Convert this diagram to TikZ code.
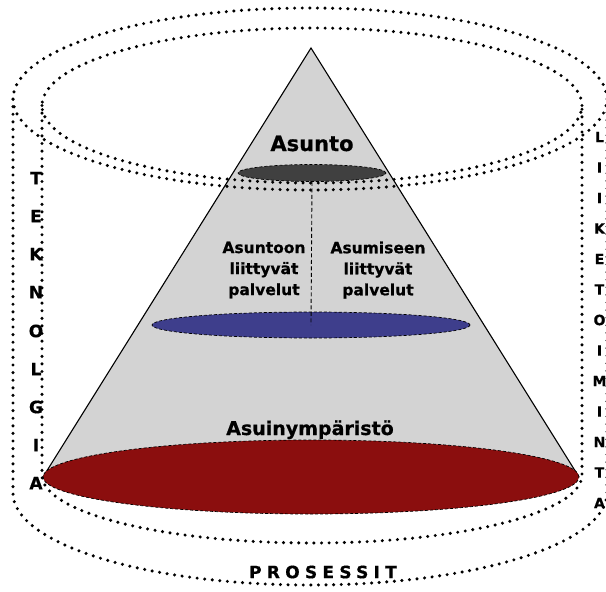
\documentclass[tikz,border=0pt]{standalone}
\usepackage{fontspec}
\setmainfont{DejaVu Sans}[BoldFeatures={FakeBold=0.6}]
\usetikzlibrary{shapes.geometric}
\definecolor{conegray}{RGB}{211,211,211}
\definecolor{redbase}{RGB}{139,14,14}
\definecolor{bluedisc}{RGB}{62,62,140}
\definecolor{darkdisc}{RGB}{64,64,64}
\begin{document}
\begin{tikzpicture}[x=1pt,y=-1pt,
  dotline/.style={line width=3.4pt, dash pattern=on 0pt off 7.6pt, line cap=round},
  disc/.style={ellipse, draw, line width=0.7pt, inner sep=0pt, dash pattern=on 3pt off 2pt},
  lbl/.style={font=\bfseries\fontsize{15.5}{21}\selectfont, align=center, inner sep=0pt},
  sidel/.style={font=\bfseries\fontsize{17}{17}\selectfont, inner sep=0pt},
  sider/.style={font=\bfseries\fontsize{14}{14}\selectfont, inner sep=0pt}]
\useasboundingbox (0,0) rectangle (606,592);
\clip (0,0) rectangle (606,592);
% cone
\fill[conegray] (311,48) -- (43,477) -- (579,477) -- cycle;
\draw[line width=1.1pt] (43,477) -- (311,48) -- (579,477);
% discs
\node[disc, fill=redbase, minimum width=536pt, minimum height=74pt] (base) at (311,477) {};
\node[disc, fill=bluedisc, minimum width=318pt, minimum height=26pt] (mid) at (311,325) {};
\node[disc, fill=darkdisc, minimum width=148pt, minimum height=17pt] (top) at (312,173) {};
\draw[line width=0.9pt, dash pattern=on 4pt off 2.5pt] (top.south) -- (mid.center);
% texts
\node[font=\bfseries\fontsize{21}{21}\selectfont, inner sep=0pt, anchor=base] (asunto) at (312,151) {Asunto};
\node[lbl] (lleft) at (264,270) {Asuntoon\\liittyvät\\palvelut};
\node[lbl] (lright) at (378,270) {Asumiseen\\liittyvät\\palvelut};
\node[font=\bfseries\fontsize{19}{19}\selectfont, inner sep=0pt, anchor=base] (env) at (310,435) {Asuinympäristö};
% cylinders
\draw[dotline] (310,99) ellipse [x radius=297pt, y radius=91pt];
\draw[dotline] (312,105.5) ellipse [x radius=270pt, y radius=77.5pt];
\draw[dotline] (13,99) -- (13,493) arc[start angle=180, end angle=360, x radius=297pt, y radius=92pt] -- (607,99);
\draw[dotline] (42,105.5) -- (42,475) arc[start angle=180, end angle=360, x radius=270pt, y radius=68pt] -- (582,105.5);
% side letters
\foreach \ch/\yy [count=\i] in {T/178,E/216,K/254,N/292,O/331,L/369,G/407,I/445,A/483}
  \node[sidel] (tl\i) at (36,\yy) {\ch};
\foreach \ch/\yy [count=\i] in {L/137,I/167.5,I/198,K/228.5,E/259,T/289.5,O/320,I/350.5,M/381,I/411.5,N/442,T/472.5,A/503}
  \node[sider] (lt\i) at (599.5,\yy) {\ch};
\node[font=\bfseries\fontsize{17}{17}\selectfont\addfontfeatures{LetterSpace=31}, inner sep=0pt] (pros) at (323,572) {PROSESSIT};
\end{tikzpicture}
\end{document}
